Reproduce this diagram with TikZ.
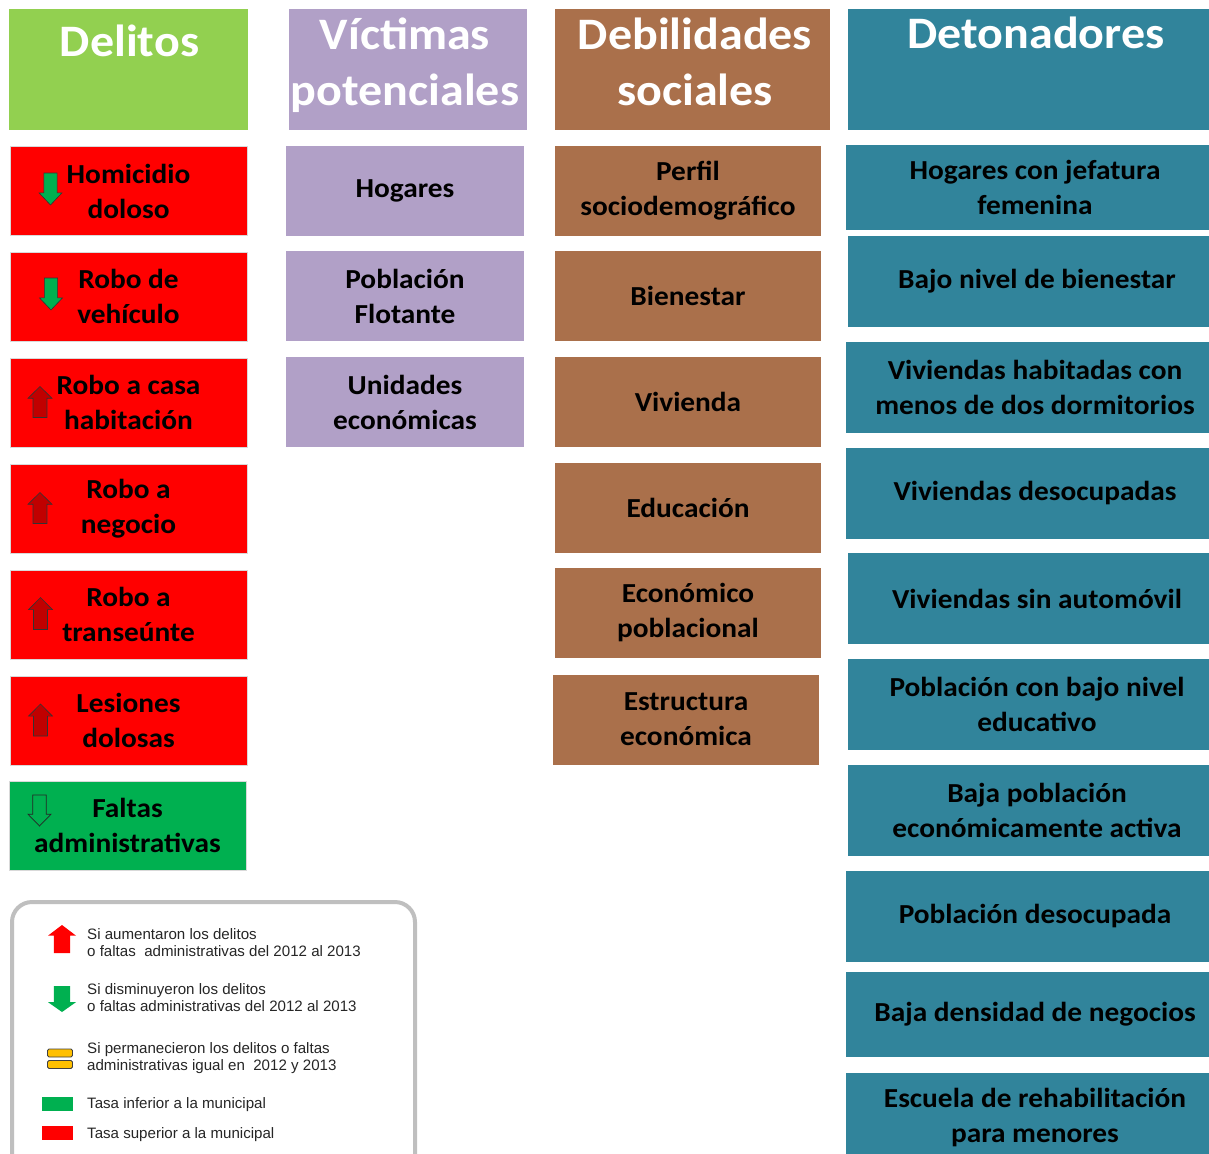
\documentclass[tikz,border=0pt]{standalone}
\usepackage{fontspec}
\setmainfont{Carlito}[FakeStretch=1.067]
\newfontfamily\legendfont{Liberation Sans}
\usetikzlibrary{positioning}
\definecolor{delGreen}{HTML}{92D050}
\definecolor{delLilac}{HTML}{B1A0C7}
\definecolor{delBrown}{HTML}{AA704B}
\definecolor{delTeal}{HTML}{31849B}
\definecolor{delRed}{HTML}{FF0000}
\definecolor{delDarkRed}{HTML}{C00000}
\definecolor{delOkGreen}{HTML}{00B050}
\definecolor{delAmber}{HTML}{FFC000}
\definecolor{delFrame}{HTML}{BFBFBF}
\definecolor{delInk}{HTML}{262626}
\begin{document}
\begin{tikzpicture}[x=1pt,y=-1pt,line join=miter]
\useasboundingbox (0,0) rectangle (1209,1153);
\clip (0,0) rectangle (1209,1153);
\tikzset{head/.style={inner sep=0pt,outer sep=0pt,minimum height=121pt},headtxt/.style={anchor=base,inner sep=0pt,text=white,font=\fontsize{45}{56}\selectfont\bfseries},cell/.style={inner sep=0pt,outer sep=0pt,align=center,text=black,font=\fontsize{27.5}{35}\selectfont\bfseries},delito/.style={cell,fill=delRed,draw=black!15,line width=.8pt,minimum width=237pt,minimum height=89pt},victima/.style={cell,fill=delLilac,minimum width=238pt,minimum height=90pt},debil/.style={cell,fill=delBrown,minimum width=266pt,minimum height=90pt},deton/.style={cell,fill=delTeal,minimum width=378pt,minimum height=91pt},keytxt/.style={anchor=west,inner sep=0pt,align=left,text=delInk,font=\legendfont\fontsize{15.1}{17}\selectfont},
pics/blockarrow/.style={code={\path[pic actions] (-.29,-.5) -- (.29,-.5) -- (.29,.12) -- (.5,.12) -- (0,.5) -- (-.5,.12) -- (-.29,.12) -- cycle;}}}
\node[head,fill=delGreen,minimum width=239pt] (delitos) at (128.5,69.5) {};
\node[head,fill=delLilac,minimum width=238pt] (victimas) at (408,69.5) {};
\node[head,fill=delBrown,minimum width=275pt] (debilidades) at (692.5,69.5) {};
\node[head,fill=delTeal,minimum width=376pt] (detonadores) at (1036,69.5) {};
\node[headtxt] (delitosT) at (129.5,57) {Delitos};
\node[headtxt] (victimasT) at (405,50) {Víctimas}; \node[headtxt] (victimasTb) at (405,106) {potenciales};
\node[headtxt] (debilidadesT) at (695,50) {Debilidades}; \node[headtxt] (debilidadesTb) at (695,106) {sociales};
\node[headtxt] (detonadoresT) at (1036,49) {Detonadores};
\node[delito] (homicidio) at (128.5,191) {Homicidio\\doloso};
\node[delito] (vehiculo) at (128.5,296.5) {Robo de\\vehículo};
\node[delito] (casa) at (128.5,402.5) {Robo a casa\\habitación};
\node[delito] (negocio) at (128.5,508.5) {Robo a\\negocio};
\node[delito] (transeunte) at (128.5,614.5) {Robo a\\transeúnte};
\node[delito] (lesiones) at (128.5,720.5) {Lesiones\\dolosas};
\node[delito,fill=delOkGreen] (faltas) at (127.5,825.5) {Faltas\\administrativas};
\pic[fill=delOkGreen,draw=black!80,line width=.6pt,xscale=23,yscale=32] at (50.5,189) {blockarrow};
\pic[fill=delOkGreen,draw=black!80,line width=.6pt,xscale=23,yscale=32] at (51,294) {blockarrow};
\pic[fill=delDarkRed,draw=black!80,line width=.6pt,xscale=24,yscale=-31] at (40,402) {blockarrow};
\pic[fill=delDarkRed,draw=black!80,line width=.6pt,xscale=24,yscale=-31] at (40,508) {blockarrow};
\pic[fill=delDarkRed,draw=black!80,line width=.6pt,xscale=24,yscale=-32] at (40.5,613.5) {blockarrow};
\pic[fill=delDarkRed,draw=black!80,line width=.6pt,xscale=24,yscale=-32] at (40.5,720) {blockarrow};
\pic[draw=black!85,line width=.7pt,xscale=23,yscale=31] at (39.5,810.5) {blockarrow};
\node[victima] (hogares) at (405,190.5) {Hogares};
\node[victima] (flotante) at (405,296) {Población\\Flotante};
\node[victima] (unidades) at (405,402) {Unidades\\económicas};
\node[debil] (perfil) at (688,190.5) {Perfil\\sociodemográfico};
\node[debil] (bienestar) at (688,296) {Bienestar};
\node[debil] (vivienda) at (688,402) {Vivienda};
\node[debil] (educacion) at (688,508) {Educación};
\node[debil] (economico) at (688,613) {Económico\\poblacional};
\node[debil] (estructura) at (686,719.5) {Estructura\\económica};
\node[deton,minimum height=85pt] (jefatura) at (1035,187.5) {Hogares con jefatura\\femenina};
\node[deton] (bajobien) at (1037,281.5) {Bajo nivel de bienestar};
\node[deton] (dormitorios) at (1035,387.5) {Viviendas habitadas con\\menos de dos dormitorios};
\node[deton] (desocupadas) at (1035,493.5) {Viviendas desocupadas};
\node[deton] (automovil) at (1037,598.5) {Viviendas sin automóvil};
\node[deton] (educativo) at (1037,704.5) {Población con bajo nivel\\educativo};
\node[deton] (activa) at (1037,810.5) {Baja población\\económicamente activa};
\node[deton] (desocupada) at (1035,916.5) {Población desocupada};
\node[deton,minimum height=85pt] (negocios) at (1035,1014.5) {Baja densidad de negocios};
\node[deton,minimum height=88pt] (escuela) at (1035,1117) {Escuela de rehabilitación\\para menores};
\node[draw=delFrame,fill=white,line width=4pt,rounded corners=20pt,inner sep=0pt,minimum width=403pt,minimum height=300pt] (legend) at (213.5,1052) {};
\pic[fill=delRed,xscale=28,yscale=-28] at (62,939) {blockarrow};
\pic[fill=delOkGreen,xscale=28,yscale=26] at (62,999) {blockarrow};
\node[fill=delAmber,draw=black!75,line width=.8pt,rounded corners=1.5pt,inner sep=0pt,minimum width=25pt,minimum height=8pt] (keySameA) at (60,1053) {};
\node[fill=delAmber,draw=black!75,line width=.8pt,rounded corners=1.5pt,inner sep=0pt,minimum width=25pt,minimum height=8pt] (keySameB) at (60,1064.5) {};
\node[fill=delOkGreen,inner sep=0pt,minimum width=31pt,minimum height=14pt] (keyLow) at (57.5,1104) {};
\node[fill=delRed,inner sep=0pt,minimum width=31pt,minimum height=14pt] (keyHigh) at (57.5,1133) {};
\node[keytxt] (keyUpT) at (87,943) {Si aumentaron los delitos\\o faltas\ \ administrativas del 2012 al 2013};
\node[keytxt] (keyDownT) at (87,998) {Si disminuyeron los delitos\\o faltas administrativas del 2012 al 2013};
\node[keytxt] (keySameT) at (87,1058) {Si permanecieron los delitos o faltas\\administrativas igual en\ \ 2012 y 2013};
\node[keytxt] (keyLowT) at (87,1105) {Tasa inferior a la municipal};
\node[keytxt] (keyHighT) at (87,1135) {Tasa superior a la municipal};
\end{tikzpicture}
\end{document}
